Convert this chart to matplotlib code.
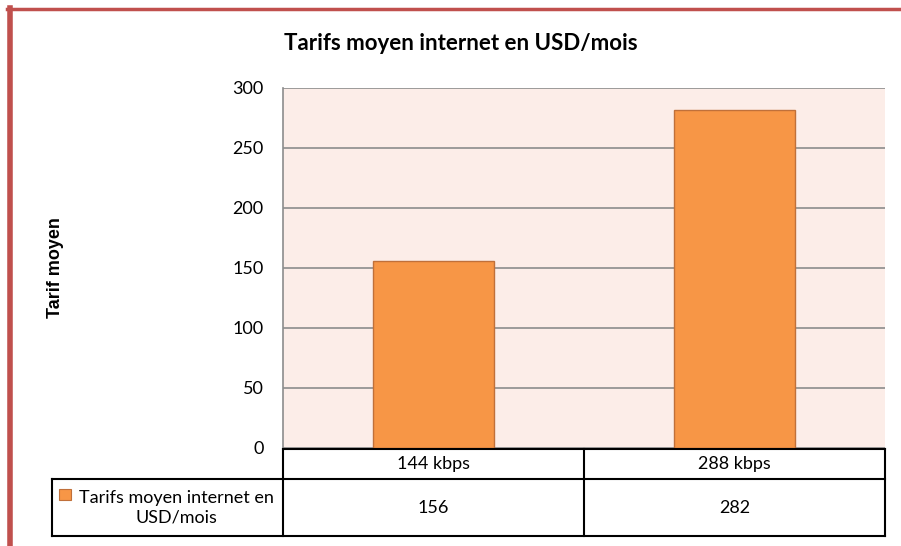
import numpy as np
import matplotlib
matplotlib.use("Agg")
import matplotlib.pyplot as plt
from matplotlib.lines import Line2D
from matplotlib.patches import Rectangle

# data
categories = ["144 kbps", "288 kbps"]
tarifs = [156, 282]
series_name = "Tarifs moyen internet en\nUSD/mois"
title = "Tarifs moyen internet en USD/mois"
ylabel = "Tarif moyen"
yticks = [0, 50, 100, 150, 200, 250, 300]

W, H = 901, 546
bar_color = "#F79646"
edge_color = "#C0703A"
font = ["Lato", "DejaVu Sans"]

plt.rcParams["font.family"] = font

fig = plt.figure(figsize=(W / 100, H / 100), dpi=100)

def fx(px):
    return px / W

def fy(py):
    return 1 - py / H

# plot area in pixels
left, right, top, bottom = 283, 885, 88, 448
ax = fig.add_axes([fx(left), fy(bottom), fx(right - left), (bottom - top) / H])
ax.set_facecolor("#FCEDE8")
x = np.arange(len(categories))
ax.bar(x, tarifs, width=0.4, color=bar_color, edgecolor=edge_color, linewidth=1, zorder=3)
ax.set_xlim(-0.5, len(categories) - 0.5)
ax.set_ylim(0, 300)
ax.set_yticks(yticks)
ax.set_yticklabels([str(v) for v in yticks], fontsize=13)
ax.tick_params(axis="y", length=0, pad=14)
ax.set_xticks([])
ax.yaxis.grid(True, color="#8C8C8C", linewidth=1.2, zorder=1)
for s in ["top", "right", "bottom"]:
    ax.spines[s].set_visible(False)
ax.spines["left"].set_color("#8C8C8C")
ax.spines["left"].set_linewidth(1.2)

# title and y label
fig.text(fx(461), fy(44), title, ha="center", va="center", fontsize=16, fontweight="bold")
fig.text(fx(55), fy(268), ylabel, ha="center", va="center", rotation=90,
         fontsize=13, fontweight="bold", family=["Liberation Sans", "DejaVu Sans"])

# data table
lw = 1.5
col_div = 584
row1_top, row1_bot, row2_bot = 449, 479, 536
leg_left = 52
lines = [
    ((left, right), (row1_top, row1_top)),
    ((leg_left, right), (row1_bot, row1_bot)),
    ((leg_left, right), (row2_bot, row2_bot)),
    ((left, left), (row1_top, row2_bot)),
    ((col_div, col_div), (row1_top, row2_bot)),
    ((right, right), (row1_top, row2_bot)),
    ((leg_left, leg_left), (row1_bot, row2_bot)),
]
for xs, ys in lines:
    fig.add_artist(Line2D([fx(v) for v in xs], [fy(v) for v in ys], color="black", lw=lw))

centers = [(left + col_div) / 2, (col_div + right) / 2]
for cx, cat, val in zip(centers, categories, tarifs):
    fig.text(fx(cx), fy(464), cat, ha="center", va="center", fontsize=13)
    fig.text(fx(cx), fy(508), str(val), ha="center", va="center", fontsize=13)

fig.add_artist(Rectangle((fx(59), fy(500)), fx(12), 11 / H, facecolor=bar_color,
                         edgecolor=edge_color, lw=0.8, transform=fig.transFigure))
fig.text(fx(176), fy(508), series_name, ha="center", va="center", fontsize=13,
         linespacing=1.3)

# outer red border
red = "#C0504D"
fig.add_artist(Line2D([fx(7), 1], [fy(9), fy(9)], color=red, lw=2.5))
fig.add_artist(Line2D([fx(9.5), fx(9.5)], [fy(8), 0], color=red, lw=4))

fig.savefig("out.png", dpi=100)
